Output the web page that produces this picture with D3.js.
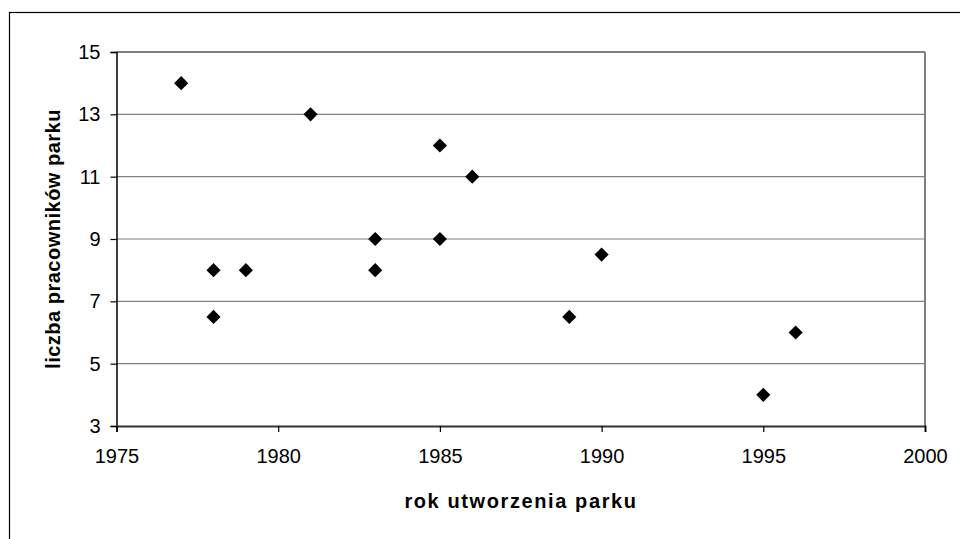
<!DOCTYPE html>
<html><head><meta charset="utf-8">
<script src="https://cdn.jsdelivr.net/npm/d3@7/dist/d3.min.js"></script>
<style>body{margin:0;background:#fff}svg{display:block}</style>
</head><body>
<svg id="c" width="960" height="539"></svg>
<script>
const years = [1977, 1978, 1978, 1979, 1981, 1983, 1983, 1985, 1985, 1986, 1989, 1990, 1995, 1996];
const workers = [14, 8, 6.5, 8, 13, 9, 8, 12, 9, 11, 6.5, 8.5, 4, 6];
const xTicks = [1975, 1980, 1985, 1990, 1995, 2000];
const yTicks = [3, 5, 7, 9, 11, 13, 15];
const xTitle = "rok utworzenia parku";
const yTitle = "liczba pracowników parku";

const svg = d3.select("#c");
const font = "'Liberation Sans', Arial, sans-serif";
const L = 116.5, R = 925, T = 52, B = 426;
const x = d3.scaleLinear().domain([1975, 2000]).range([L, R]);
const y = d3.scaleLinear().domain([3, 15]).range([B, T]);

// outer frame
svg.append("rect").attr("x", 9.5).attr("y", 12.5).attr("width", 1000).attr("height", 1000)
  .attr("fill", "none").attr("stroke", "#000").attr("stroke-width", 1.2);

// gridlines
svg.append("g").selectAll("line").data(yTicks.filter(d => d > 3)).join("line")
  .attr("x1", L).attr("x2", R).attr("y1", d => y(d)).attr("y2", d => y(d))
  .attr("stroke", "#808080").attr("stroke-width", d => d === 15 ? 2 : 1.2);
// right border of plot
svg.append("line").attr("x1", R).attr("x2", R).attr("y1", T).attr("y2", B)
  .attr("stroke", "#808080").attr("stroke-width", 2);

// axes
const yAxis = d3.axisLeft(y).tickValues(yTicks).tickSize(6).tickPadding(10);
const gy = svg.append("g").attr("transform", `translate(${L},0)`).call(yAxis);
gy.select(".domain").attr("stroke", "#000").attr("stroke-width", 1.5);
gy.selectAll(".tick line").attr("stroke", "#000").attr("stroke-width", 1.2);
gy.selectAll("text").attr("font-family", font).attr("font-size", 20).attr("fill", "#000");

const xAxis = d3.axisBottom(x).tickValues(xTicks).tickFormat(d3.format("d")).tickSize(6).tickPadding(17);
const gx = svg.append("g").attr("transform", `translate(0,${B})`).call(xAxis);
gx.select(".domain").attr("stroke", "#333").attr("stroke-width", 2);
gx.selectAll(".tick line").attr("stroke", "#000").attr("stroke-width", 1.2);
gx.selectAll("text").attr("font-family", font).attr("font-size", 20).attr("fill", "#000");

// points
const diamond = d3.symbol().type(d3.symbolSquare).size(100);
svg.append("g").selectAll("path").data(years.map((yr, i) => [yr, workers[i]])).join("path")
  .attr("d", diamond)
  .attr("transform", d => `translate(${x(d[0])},${y(d[1])}) rotate(45)`)
  .attr("fill", "#000");

// titles
svg.append("text").attr("x", 521).attr("y", 508).attr("text-anchor", "middle")
  .attr("font-family", font).attr("font-size", 20).attr("font-weight", "bold")
  .attr("letter-spacing", 1.6).text(xTitle);
svg.append("text").attr("transform", `translate(60,${(T + B) / 2}) rotate(-90)`)
  .attr("text-anchor", "middle")
  .attr("font-family", font).attr("font-size", 20).attr("font-weight", "bold")
  .attr("letter-spacing", 0.5).text(yTitle);
</script>
</body></html>
